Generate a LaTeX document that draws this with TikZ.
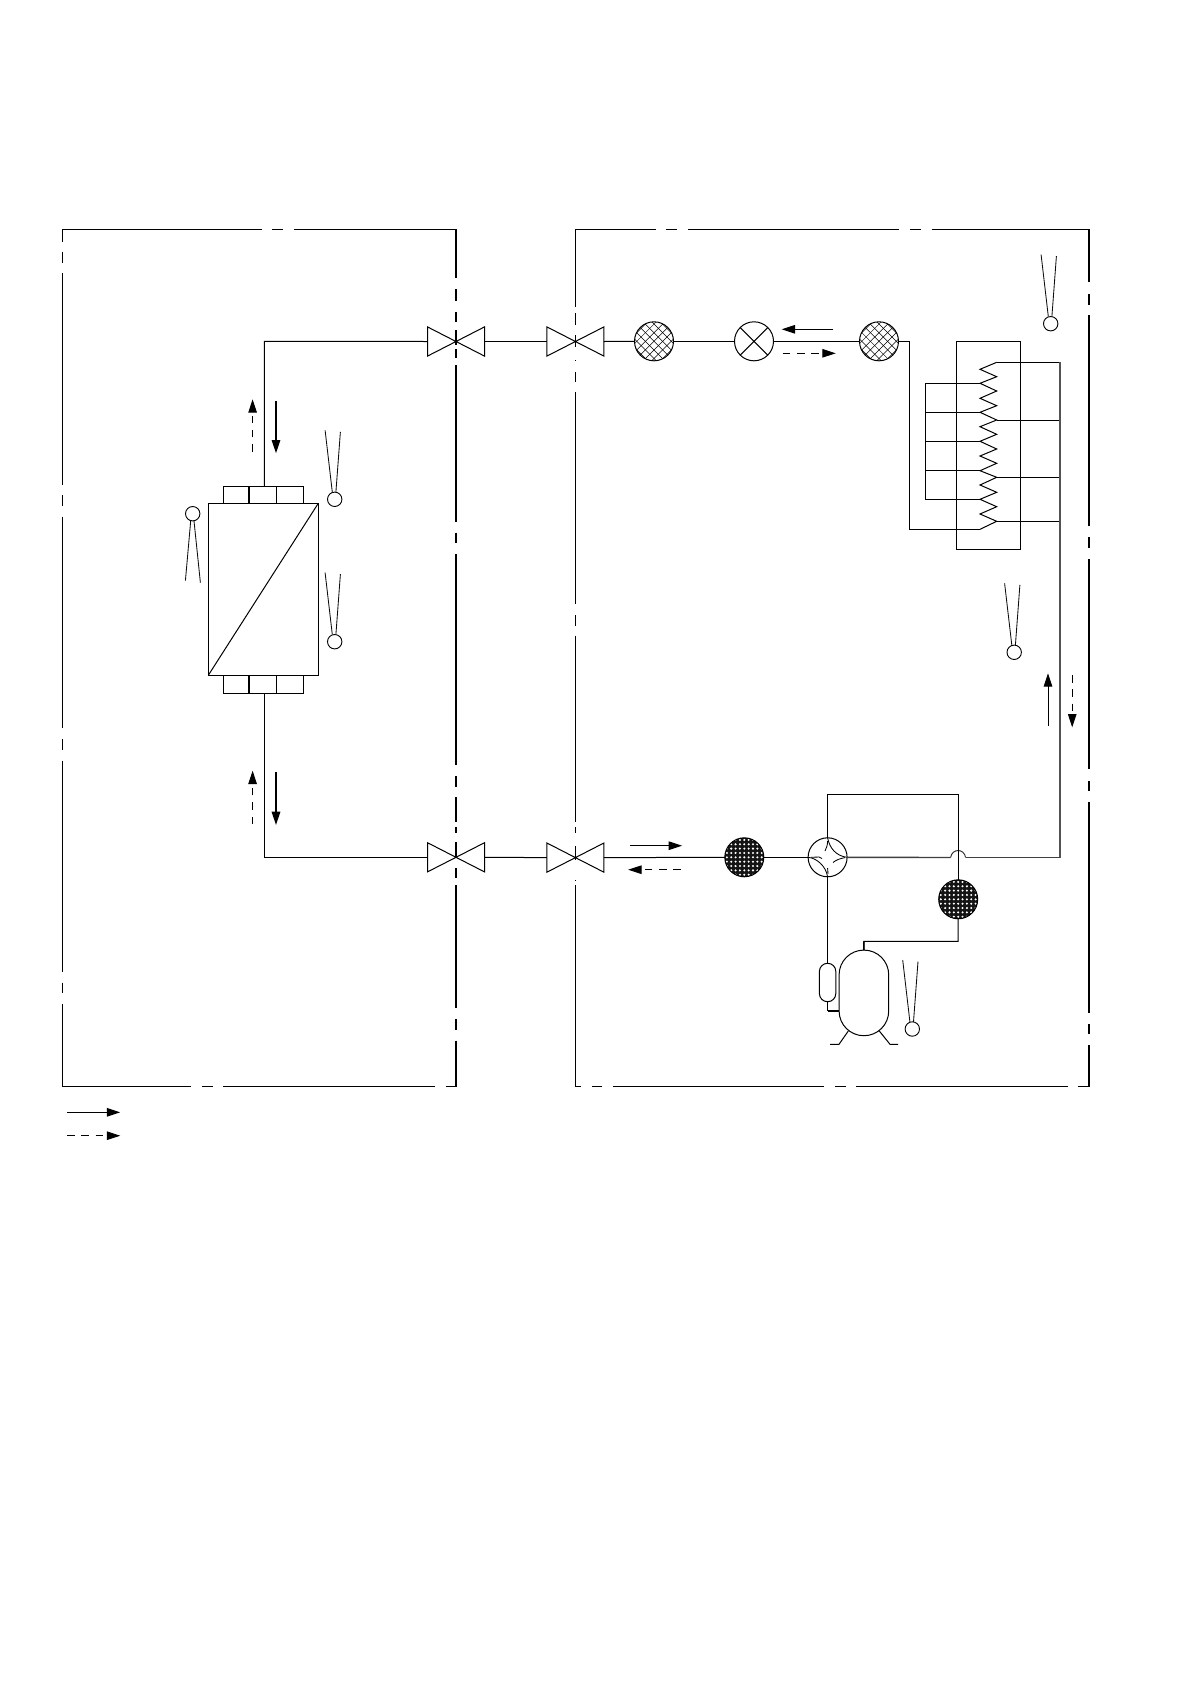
\documentclass[tikz,border=0pt]{standalone}
\usetikzlibrary{arrows.meta,calc}
\tikzset{
  pipe/.style={line width=1pt,line join=miter},
  graypipe/.style={line width=1.4pt,draw=black!75},
  bound/.style={line width=1pt},
  boundthick/.style={line width=1.7pt},
  sensorbulb/.style={circle,draw,fill=white,line width=0.9pt,minimum size=14.4pt,inner sep=0pt,outer sep=0pt},
  sensorlead/.style={line width=0.85pt,draw=black!95},
  lighthatch/.style={circle,draw,fill=white,line width=1pt,minimum size=39pt,inner sep=0pt,outer sep=0pt,
    path picture={
      \foreach \k in {-4,...,4}{
        \draw[line width=0.5pt] ($(path picture bounding box.center)+(\k*8.6-30,-30)$) -- ++(60,60);
        \draw[line width=0.5pt] ($(path picture bounding box.center)+(\k*8.6-30,30)$) -- ++(60,-60);
      }}},
  darkhatch/.style={circle,draw,fill=black!92,line width=1pt,minimum size=39pt,inner sep=0pt,outer sep=0pt,
    path picture={
      \foreach \i in {-5,...,5}{\foreach \j in {-5,...,5}{
        \fill[white] ($(path picture bounding box.center)+(\i*4.35,\j*4.35)$) circle (1.15);
      }}}},
  plainround/.style={circle,draw,fill=white,line width=1pt,minimum size=39pt,inner sep=0pt,outer sep=0pt},
  boxnode/.style={draw,fill=white,line width=1pt,inner sep=0pt,outer sep=0pt},
  solidflow/.style={line width=1pt,-{Triangle[length=13.3pt,width=8.5pt]}},
  heavyflow/.style={line width=1.6pt,-{Triangle[length=13.3pt,width=8.5pt]}},
  dashflow/.style={line width=0.85pt,dash pattern=on 7.5pt off 6.8pt,-{Triangle[length=13.3pt,width=8.5pt]}},
}
\newcommand{\valvesym}[3]{% name, x, y
  \coordinate (#1-l) at (#2-28.5,#3);
  \coordinate (#1-r) at (#2+28.5,#3);
  \draw[pipe] (#2-28.5,#3-14.6) -- (#2+28.5,#3+14.6) -- (#2+28.5,#3-14.6) -- (#2-28.5,#3+14.6) -- cycle;
}
\newcommand{\sensordown}[3]{% name, x, y : leads above the bulb
  \node[sensorbulb] (#1) at (#2,#3) {};
  \draw[sensorlead] (#2-2.4,#3-7.2) -- (#2-9.6,#3-69);
  \draw[sensorlead] (#2+1.2,#3-7.2) -- (#2+5.7,#3-67.5);
}
\newcommand{\sensorup}[3]{% name, x, y : leads below the bulb
  \node[sensorbulb] (#1) at (#2,#3) {};
  \draw[sensorlead] (#2-2,#3+7.2) -- (#2-7.3,#3+67);
  \draw[sensorlead] (#2+1.3,#3+7.2) -- (#2+7.7,#3+69);
}
\begin{document}
\begin{tikzpicture}[x=1pt,y=-1pt]
\useasboundingbox (0,0) rectangle (1190,1684);
\fill[white] (0,0) rectangle (1190,1684);

% ---- indoor boundary
\foreach \a/\b in {62.4/262,272/283,294/456.2} \draw[bound] (\a,229.3) -- (\b,229.3);
\foreach \a/\b in {62.4/190.6,202/213,223/435,446/456.2} \draw[bound] (\a,1086.3) -- (\b,1086.3);
\foreach \a/\b in {229/241.7,251.7/262.7,273.3/485,495/506,516.7/728,739/750,760.7/971.7,982.7/993,1004/1086.8}
  \draw[bound] (62.4,\a) -- (62.4,\b);
\foreach \a/\b in {229/278,289/300.7,312/322,330/345,349/358,365/521.7,532.7/543.3,554/765,776/786.7,797/822,827/833,842/858,868/878,885/1008,1019/1030,1040.7/1086.8}
  \draw[boundthick] (456.2,\a) -- (456.2,\b);

% ---- outdoor boundary
\foreach \a/\b in {575.6/655.7,665.8/677,688.4/899,910/920.5,931.5/1089.8} \draw[bound] (\a,229.3) -- (\b,229.3);
\foreach \a/\b in {575.6/581,592/602,613/823.9,835/846.4,855.8/1067.6,1077.8/1089.8} \draw[bound] (\a,1086.3) -- (\b,1086.3);
\foreach \a/\b in {229/307,313/325,335/347,360/361,372/382,392.3/604,615/626,635.7/822,827/833,846/860,880/881,885/1086.8}
  \draw[line width=0.85pt] (575.6,\a) -- (575.6,\b);
\foreach \a/\b in {229/282.3,294.3/305,315.3/526,537.3/547.7,559/769.3,781/791,802/1013,1024/1034,1045/1086.8}
  \draw[boundthick] (1089,\a) -- (1089,\b);

% ---- corner points of the pipe run
\coordinate (ptl) at (264.4,341.3);
\coordinate (pbl) at (264.4,857.3);
\coordinate (ttop) at (264.4,486.3);
\coordinate (tbot) at (264.4,693.3);
\coordinate (tr1) at (909.3,341.3);
\coordinate (tr2) at (909.3,529.3);
\coordinate (coilin) at (980,529.3);

% ---- valves
\valvesym{va}{456}{341.5}
\valvesym{vb}{575.4}{341.5}
\valvesym{vc}{456}{857.3}
\valvesym{vd}{575.4}{857.6}

% ---- heat exchanger
\node[boxnode,minimum width=110pt,minimum height=172pt] (exch) at (263.3,589.3) {};
\draw[pipe] (exch.south west) -- (exch.north east);
\node[boxnode,minimum width=80pt,minimum height=17pt] (tabt) at (263.3,494.8) {};
\node[boxnode,minimum width=80pt,minimum height=18pt] (tabb) at (263.3,684.3) {};
\draw[line width=1.6pt] (249,486.3) -- (249,503.3);
\draw[pipe] (276.7,486.3) -- (276.7,503.3);
\draw[line width=1.6pt] (249,675.3) -- (249,693.3);
\draw[pipe] (276.7,675.3) -- (276.7,693.3);

% ---- top line components
\node[lighthatch] (c1) at (654,341.3) {};
\node[plainround] (xv) at (754,341.3) {};
\draw[pipe] (xv.north west) -- (xv.south east) (xv.north east) -- (xv.south west);
\node[lighthatch] (c2) at (879,341.3) {};

% ---- bottom line components
\node[darkhatch] (c3) at (744.3,857.3) {};
\node[plainround] (fw) at (827.6,857.3) {};
\node[darkhatch] (c4) at (958.2,899.3) {};

% ---- four way valve interior
\draw[line width=0.85pt] (fw.north) .. controls (829.5,848) and (836,856) .. (fw.east);
\draw[line width=0.85pt] (fw.west) .. controls (816.5,858) and (826,866) .. (fw.south);
\draw[line width=0.85pt] (825,851) .. controls (826.5,848) and (827.6,845) .. (827.6,841);
\draw[line width=0.85pt] (833,862.5) .. controls (836,860) and (840,858.5) .. (845,857.6);
\draw[line width=0.85pt] (811,857.3) -- (819,857) -- (822,858.5);
\draw[line width=0.85pt] (827.6,868) -- (828,874);

% ---- coil
\node[boxnode,minimum width=63.6pt,minimum height=208pt,fill=none] (coil) at (988.5,445.3) {};
\draw[pipe] (coilin)
  -- (996.7,521.3) -- (980,514) -- (996.7,506.7) -- (980,499.3) -- (996.7,492.3)
  -- (980,485) -- (996.7,477.3) -- (980,470.7) -- (996.7,463.3) -- (980,456)
  -- (996.7,449) -- (980,441.3) -- (996.7,434.3) -- (980,426.7) -- (996.7,420)
  -- (980,412.3) -- (996.7,405.7) -- (980,398.3) -- (996.7,391) -- (980,383.3)
  -- (996.7,376.7) -- (980,369.3) -- (996.7,362.3);
\coordinate (hdr) at (1060,362.3);
\coordinate (hdrb) at (1060,857.5);
\foreach \y in {362.3,420,477.3,521.3} \draw[pipe] (996.7,\y) -- (1060,\y);
\coordinate (ml1) at (925.3,383.3);
\coordinate (ml5) at (925.3,499.3);
\foreach \y in {383.3,412.3,441.3,470.7,499.3} \draw[pipe] (925.3,\y) -- (980,\y);
\draw[pipe] (ml1) -- (ml5);
\draw[line width=1.15pt,draw=black!68] (hdr) -- (hdrb);

% ---- compressor and accumulator
\node[boxnode,minimum width=49.6pt,minimum height=85.6pt,rounded corners=24.7pt] (comp) at (863.9,992.9) {};
\node[boxnode,minimum width=16.4pt,minimum height=38.4pt,rounded corners=8.1pt] (accu) at (827.6,982.5) {};
\draw[pipe] (848.3,1031) -- (839,1044.3) -- (830,1044.3);
\draw[pipe] (879.3,1031) -- (890,1044.3) -- (898,1044.3);

% ---- pipes
\coordinate (j1) at (827.6,794.3);
\coordinate (j2) at (958.2,794.3);
\coordinate (b1) at (950.6,857.5);
\coordinate (b2) at (965.6,857.5);
\coordinate (dl1) at (958.2,941.3);
\coordinate (dl2) at (863.8,941.3);
\coordinate (al1) at (827.6,1010.7);
\coordinate (al2) at (839.1,1010.7);
\draw[pipe] (va-l) -- (ptl) -- (ttop);
\draw[pipe] (vc-l) -- (pbl) -- (tbot);
\draw[pipe] (va-r) -- (vb-l);
\draw[pipe] (vc-r) -- (vd-l);
\draw[pipe] (vb-r) -- (c1);
\draw[pipe] (c1) -- (xv);
\draw[pipe] (xv) -- (c2);
\draw[pipe] (c2) -- (tr1) -- (tr2) -- (coilin);
\draw[pipe] (vd-r) -- (c3);
\draw[pipe] (c3) -- (fw);
\draw[graypipe] (fw.east) -- (b1);
\draw[pipe,draw=black!80] (b1) .. controls (952,848.2) and (964.2,848.2) .. (b2);
\draw[graypipe] (b2) -- (hdrb);
\draw[pipe] (fw.north) -- (j1) -- (j2) -- (c4);
\draw[pipe] (c4) -- (dl1) -- (dl2) -- (comp.north);
\draw[line width=1.5pt] (dl2) -- (comp.north);
\draw[pipe] (fw.south) -- (accu.north);
\draw[pipe] (accu.south) -- (al1);
\draw[line width=1.6pt] (al1) -- (al2);

% ---- sensors
\sensordown{sa}{334.7}{499.3}
\sensordown{sb}{334.7}{641.7}
\sensorup{sc}{192.7}{513.7}
\sensordown{sd}{1050.7}{323.7}
\sensordown{se}{1014.2}{652.3}
\sensordown{sf}{912.3}{1029}

% ---- flow arrows
\coordinate (fa1) at (252.6,451.7); \coordinate (fa2) at (252.6,399.3);
\coordinate (fb1) at (276,401);     \coordinate (fb2) at (276,453.3);
\coordinate (fc1) at (252.6,824);   \coordinate (fc2) at (252.6,770.7);
\coordinate (fd1) at (276,772);     \coordinate (fd2) at (276,825);
\coordinate (fe1) at (833.3,329.3); \coordinate (fe2) at (781.7,329.3);
\coordinate (ff1) at (782.7,353.3); \coordinate (ff2) at (835.7,353.3);
\coordinate (fg1) at (1048,725.7);  \coordinate (fg2) at (1048,673.3);
\coordinate (fh1) at (1072.2,675);  \coordinate (fh2) at (1072.2,727.3);
\coordinate (fi1) at (630,845.7);   \coordinate (fi2) at (682,845.7);
\coordinate (fj1) at (680.9,869.7); \coordinate (fj2) at (628.2,869.7);
\coordinate (la1) at (67,1112.3);   \coordinate (la2) at (120.2,1112.3);
\coordinate (lb1) at (67,1135.7);   \coordinate (lb2) at (120.2,1135.7);
\draw[dashflow] (fa1) -- (fa2);
\draw[heavyflow] (fb1) -- (fb2);
\draw[dashflow] (fc1) -- (fc2);
\draw[heavyflow] (fd1) -- (fd2);
\draw[solidflow] (fe1) -- (fe2);
\draw[dashflow] (ff1) -- (ff2);
\draw[solidflow] (fg1) -- (fg2);
\draw[dashflow] (fh1) -- (fh2);
\draw[solidflow] (fi1) -- (fi2);
\draw[dashflow] (fj1) -- (fj2);
\draw[solidflow] (la1) -- (la2);
\draw[dashflow] (lb1) -- (lb2);
\end{tikzpicture}
\end{document}
